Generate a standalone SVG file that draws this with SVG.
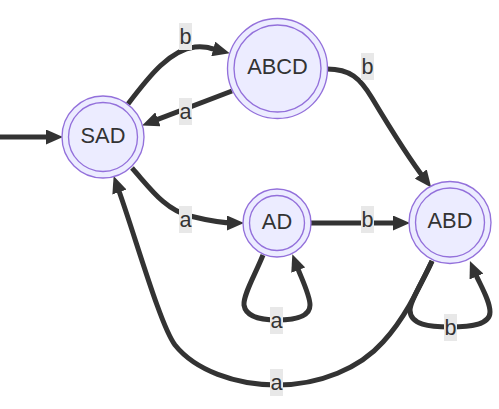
<svg xmlns="http://www.w3.org/2000/svg" width="499" height="409" viewBox="0 0 499 409">
<defs>
<marker id="arr" viewBox="0 0 17 15" refX="8" refY="7.5" markerWidth="17" markerHeight="15" markerUnits="userSpaceOnUse" orient="auto">
<path d="M0,0 L17,7.5 L0,15 z" fill="#333"/>
</marker>
<style>
.node circle{fill:#ECECFF;stroke:#9370DB;stroke-width:1.35}
.node text{font-family:"Liberation Sans",Arial,sans-serif;font-size:21.8px;fill:#333;text-anchor:middle;dominant-baseline:central}
.edge{fill:none;stroke:#333;stroke-width:5;marker-end:url(#arr)}
.lbl rect{fill:#e8e8e8}
.lbl text{font-family:"Liberation Sans",Arial,sans-serif;font-size:21.6px;fill:#333;text-anchor:middle;dominant-baseline:central}
</style>
</defs>
<rect width="499" height="409" fill="#fff"/>
<g id="edges">
<path class="edge" d="M0,137 L54,137"/>
<path class="edge" d="M128,104 C150,75 170,50 195,47 C205,46 210,48 221,51"/>
<path class="edge" d="M232,91 L150.5,122.2"/>
<path class="edge" d="M327,69 C350,69 360,78 372,98 C390,128 410,160 425.7,180.3"/>
<path class="edge" d="M132,168 C150,188 165,210 190,216 C210,221 222,223 235,223"/>
<path class="edge" d="M311,223 L401,223"/>
<path class="edge" d="M263,255 C255,275 243,295 244,305 C246,318 265,320 277,320 C290,320 310,318 310,305 C310,295 302,280 295.5,262.6"/>
<path class="edge" d="M432,261 C425,278 410,300 410,310 C410,325 430,327 450,327 C470,327 490,325 490,312 C490,300 480,285 473.4,269.2"/>
<path class="edge" d="M432,261 C418,290 405,318 383,342 C360,368 320,385 277,385 C235,385 195,370 175,345 C160,325 135,235 116.7,184.5"/>
</g>
<g id="labels">
<g class="lbl"><rect x="179" y="23" width="13" height="27"/><text x="185.5" y="36.5">b</text></g>
<g class="lbl"><rect x="179" y="98" width="13" height="27"/><text x="185.5" y="111.5">a</text></g>
<g class="lbl"><rect x="361" y="53" width="13" height="27"/><text x="367.5" y="66.5">b</text></g>
<g class="lbl"><rect x="179" y="206" width="13" height="27"/><text x="185.5" y="219.5">a</text></g>
<g class="lbl"><rect x="361" y="206" width="13" height="27"/><text x="367.5" y="219.5">b</text></g>
<g class="lbl"><rect x="270" y="307" width="13" height="27"/><text x="276.5" y="320.5">a</text></g>
<g class="lbl"><rect x="444" y="314" width="13" height="27"/><text x="450.5" y="327.5">b</text></g>
<g class="lbl"><rect x="270" y="369" width="13" height="27"/><text x="276.5" y="382.5">a</text></g>
</g>
<g id="SAD" class="node"><circle cx="103" cy="137" r="41"/><circle cx="103" cy="137" r="34.5"/><text x="103" y="135">SAD</text></g>
<g id="ABCD" class="node"><circle cx="277.5" cy="68.5" r="50"/><circle cx="277.5" cy="68.5" r="43.5"/><text x="277.5" y="66.5">ABCD</text></g>
<g id="AD" class="node"><circle cx="277" cy="223" r="34"/><circle cx="277" cy="223" r="27.5"/><text x="277" y="221">AD</text></g>
<g id="ABD" class="node"><circle cx="450" cy="222.5" r="41"/><circle cx="450" cy="222.5" r="34.5"/><text x="450" y="220.5">ABD</text></g>
</svg>
